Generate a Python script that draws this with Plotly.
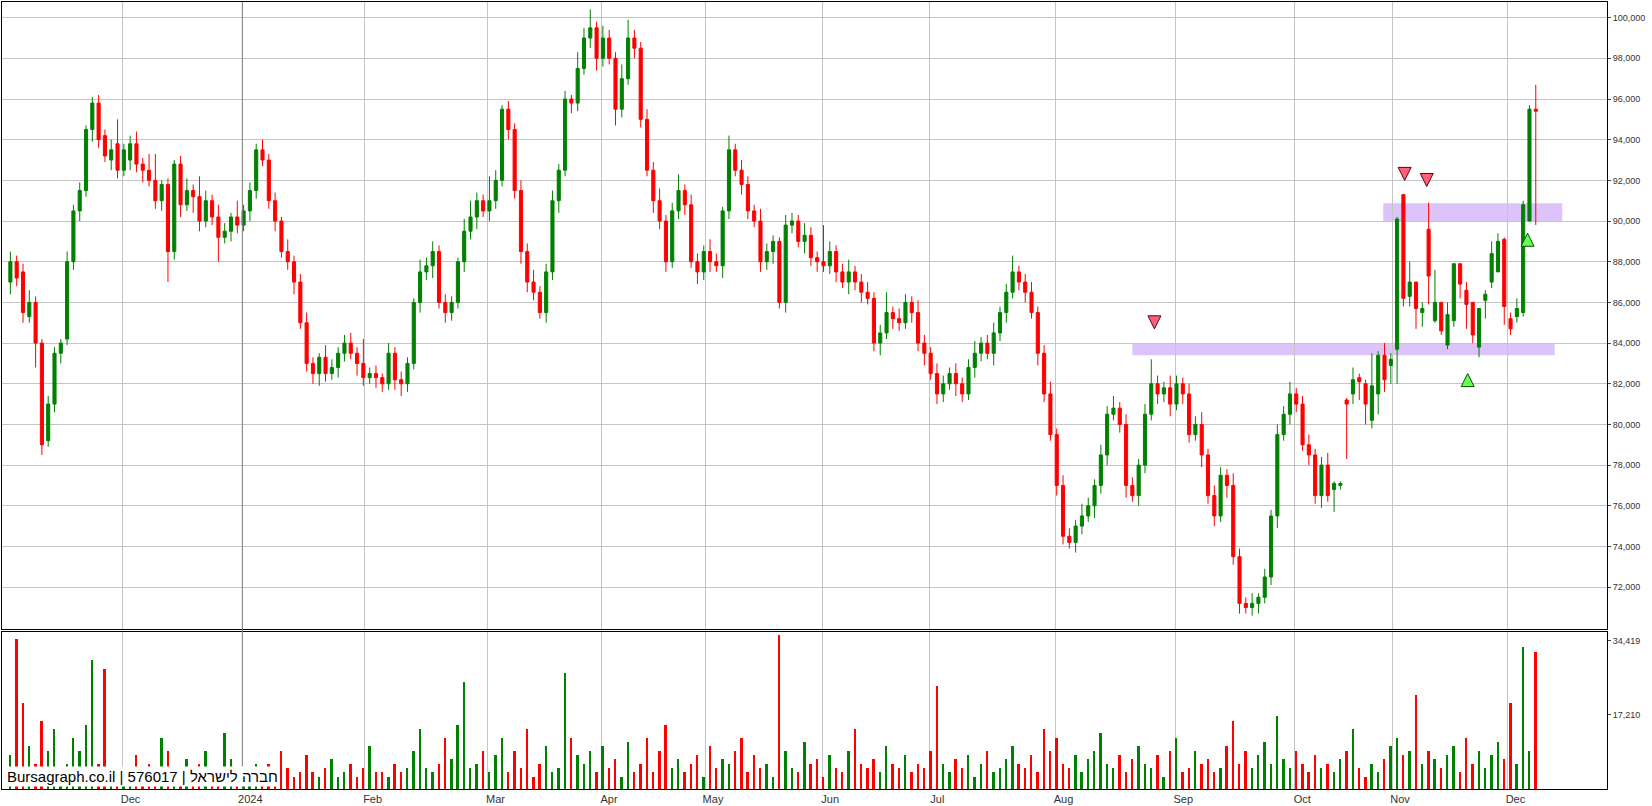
import plotly.graph_objects as go

# prices in thousands
close_head = [88.0,87.2,85.5,86.0,84.0,79.0,81.0,83.5,84.0,88.0,
90.5,91.5,94.5,95.8,94.0,93.2,93.5,92.5,93.5,93.8,
92.8,92.5,92.0,91.0,91.8,88.5,92.8,90.8,91.5,91.2,
90.0,91.0,90.2,89.2,89.5,90.2,89.8,90.5,91.5,93.5,
93.0,91.0,90.0,88.5,88.0,87.0,85.0,83.0,82.5,83.3,
82.5,82.8,83.5,84.0,83.5,83.0,82.3,82.5,82.3,82.0,
83.5,82.2,82.0,83.0,86.0,87.5,87.8,88.5,86.0,85.5,
86.0,88.0,89.5,90.2,91.0,90.5,91.0,92.0,95.5,94.5,
91.5,88.5,87.0,86.5,85.5,87.5,91.0,92.5,96.0,95.8,
97.5,99.0,99.5,98.0,99.0,98.0,95.5,97.0,99.0,98.5,
95.0,92.5,91.0,90.0,88.0,90.5,91.5,90.8,88.0,87.5,
88.5,88.0,87.8,90.5,93.5,92.5,91.8,90.5,90.0,88.0,
88.5,89.0,86.0,89.8,90.0,89.0,89.3,88.2,88.0,87.8,
88.5,87.5,87.0,87.5,87.0,86.5,86.2,84.0,84.5,85.5,
85.2,85.0,86.0,85.5,84.0,83.5,82.5,81.5,82.0,82.5,
82.0,81.5,82.8,83.5,84.0,83.5,84.5,85.5,86.5,87.5,
87.0,86.5,85.5,83.5,81.5,79.5,77.0,74.5,74.2,75.0,
75.5,76.0,77.0,78.5,80.5,80.8,80.0,77.0,76.5,78.0,
80.5,82.0,81.5,81.8,81.0,82.0,81.5,79.5,80.0,78.5,
76.5,75.5,77.5,77.0,73.5,71.2,71.0,71.2,71.5,72.5,
75.5,79.5,80.5,81.5,81.0,79.0,78.5,76.5,78.0,76.5]
open_head = [87.0,88.0,87.5,85.3,86.0,84.0,79.2,81.0,83.5,84.2,
88.0,90.5,91.5,94.5,95.8,94.2,93.0,93.8,92.5,93.0,
93.8,92.8,92.5,92.0,91.0,91.8,88.5,92.8,90.8,91.5,
91.2,90.0,91.0,90.2,89.2,89.5,90.2,89.8,90.5,91.5,
93.5,93.0,91.0,90.0,88.5,88.0,87.0,85.0,83.0,82.5,
83.3,82.5,82.8,83.5,84.0,83.5,83.0,82.3,82.5,82.3,
82.0,83.5,82.2,82.0,83.0,86.0,87.5,87.8,88.5,86.0,
85.5,86.0,88.0,89.5,90.2,91.0,90.5,91.0,92.0,95.5,
94.5,91.5,88.5,87.0,86.5,85.5,87.5,91.0,92.5,96.0,
95.8,97.5,99.0,99.5,98.0,99.0,98.0,95.5,97.0,99.0,
98.5,95.0,92.5,91.0,90.0,88.0,90.5,91.5,90.8,88.0,
87.5,88.5,88.0,87.8,90.5,93.5,92.5,91.8,90.5,90.0,
88.0,88.5,89.0,86.0,89.8,90.0,89.0,89.3,88.2,88.0,
87.8,88.5,87.5,87.0,87.5,87.0,86.5,86.2,84.0,84.5,
85.5,85.2,85.0,86.0,85.5,84.0,83.5,82.5,81.5,82.0,
82.5,82.0,81.5,82.8,83.5,84.0,83.5,84.5,85.5,86.5,
87.5,87.0,86.5,85.5,83.5,81.5,79.5,77.0,74.5,74.2,
75.0,75.5,76.0,77.0,78.5,80.5,80.8,80.0,77.0,76.5,
78.0,80.5,82.0,81.5,81.8,81.0,82.0,81.5,79.5,80.0,
78.5,76.5,75.5,77.5,77.0,73.5,71.2,71.0,71.2,71.5,
72.5,75.5,79.5,80.5,81.5,81.0,79.0,78.5,76.5,78.0]
wick_up_head = [0.5,0.3,0.4,0.6,0.3,0.2,0.4,0.3,0.2,0.5,
0.3,0.4,0.2,0.3,0.4,0.3,0.5,1.2,0.3,0.4,
0.6,0.3,0.8,1.3,0.2,0.3,0.2,0.4,0.6,0.3,
1.0,0.5,0.3,0.6,0.4,0.2,0.8,0.3,0.4,0.3,
0.5,0.3,0.4,0.2,0.6,0.3,0.4,0.5,0.3,0.2,
0.6,0.4,0.3,0.4,0.5,0.3,1.2,0.3,0.4,0.2,
0.5,0.3,0.4,0.3,0.2,0.6,0.4,0.5,0.3,0.4,
0.3,0.2,0.6,0.8,0.4,0.3,1.2,0.5,0.2,0.4,
0.3,0.5,0.4,0.6,0.3,0.4,0.5,0.3,0.4,0.2,
0.8,0.5,0.9,0.3,0.6,0.4,0.3,0.7,0.9,0.4,
0.3,0.5,0.4,0.6,0.3,0.4,0.8,0.3,0.5,0.4,
0.3,0.6,0.4,0.2,0.7,0.3,0.5,0.4,0.3,0.6,
0.4,0.3,0.2,0.5,0.4,0.3,0.6,0.4,0.3,1.8,
0.5,0.3,0.4,0.6,0.3,0.4,0.5,0.3,0.4,1.0,
0.3,0.5,0.4,0.3,0.6,0.4,0.3,0.5,0.4,0.3,
0.5,0.3,0.4,0.6,0.3,0.4,0.5,0.3,0.4,0.8,
0.3,0.4,0.5,0.3,0.4,0.6,0.3,0.5,0.4,0.3,
0.6,0.4,0.3,0.5,0.4,0.6,0.3,0.5,0.4,0.3,
0.5,1.2,0.4,0.3,0.6,0.4,0.3,0.5,0.4,0.6,
0.3,0.5,0.4,0.3,0.6,0.4,0.3,0.5,0.2,0.4,
0.3,0.5,0.4,0.6,0.3,0.4,0.5,0.3,0.4,0.6]
wick_dn_head = [0.6,0.4,0.5,0.3,1.2,0.5,0.3,0.4,0.5,0.3,
0.4,0.5,0.3,0.6,0.4,0.3,0.5,0.4,0.3,0.5,
0.4,0.6,0.3,0.4,0.5,1.5,0.4,0.6,0.3,0.8,
0.5,0.3,0.4,1.2,0.3,0.5,0.4,0.3,0.5,0.4,
0.3,0.4,0.5,0.3,0.4,0.6,0.3,0.4,0.5,0.6,
0.4,0.3,0.5,0.4,0.3,0.6,0.4,0.3,0.5,0.4,
0.3,0.5,0.6,0.4,0.3,0.5,0.4,0.6,0.3,0.5,
0.4,0.3,0.5,0.4,0.6,0.3,0.5,0.4,0.3,0.5,
0.4,0.6,0.5,0.4,0.3,0.5,0.4,0.6,0.3,0.5,
0.4,0.3,0.5,0.6,0.4,0.3,0.8,0.4,0.3,0.5,
0.4,0.3,0.6,0.4,0.5,0.3,0.4,0.5,0.3,0.6,
0.4,0.5,0.3,0.6,0.4,0.3,0.5,0.4,0.3,0.5,
0.4,0.6,0.3,0.5,0.4,0.3,0.6,0.4,0.5,0.3,
0.4,0.5,0.3,0.6,0.4,0.5,0.3,0.4,0.6,0.3,
0.5,0.4,0.3,0.5,0.4,0.6,0.3,0.5,0.4,0.3,
0.6,0.4,0.3,0.5,0.4,0.3,0.6,0.4,0.5,0.3,
0.4,0.5,0.3,0.6,0.4,0.3,0.5,0.4,0.3,0.5,
0.4,0.3,0.6,0.4,0.5,0.3,0.4,0.6,0.3,0.5,
0.4,0.3,0.5,0.4,0.6,0.3,0.5,0.4,0.3,0.6,
0.4,0.5,0.3,0.6,0.4,0.5,0.3,0.4,0.5,0.3,
0.4,0.6,0.3,0.5,0.4,0.3,0.5,0.4,0.6,0.3]

open_tail  = [76.8,77.0,81.2,81.5,82.3,82.0,80.2,81.5,83.4,82.9,83.7,91.3,86.3,87.0,85.5,89.6,85.1,86.0,83.9,85.1,87.9,86.6,86.0,83.8,86.1,87.0,87.5,89.1,85.2,85.3,85.5,90.0,95.5]
high_tail  = [77.2,77.2,81.3,82.8,82.5,82.2,83.5,83.6,84.0,83.5,90.2,91.3,88.0,87.0,86.0,90.9,87.6,86.0,86.0,87.9,87.9,87.0,86.0,85.7,86.6,89.0,89.4,89.2,85.5,86.2,91.0,95.7,96.7]
low_tail   = [75.7,76.8,78.3,81.0,81.2,80.0,79.8,80.5,81.6,82.0,82.0,85.8,85.8,84.7,84.8,85.9,85.0,84.4,83.7,84.8,86.2,84.7,84.0,83.3,85.2,86.7,87.5,84.9,84.4,85.0,85.3,90.0,89.8]
close_tail = [77.1,77.1,81.0,82.2,82.1,81.0,81.9,83.4,82.2,83.2,90.1,86.2,87.0,85.7,85.7,87.3,86.0,84.6,85.4,87.9,86.9,85.9,84.4,85.7,86.4,88.4,89.0,85.8,84.7,85.7,90.8,95.5,95.4]

volume_k = [8,35,20,10,6,16,9,14,5,6,12,9,15,30,6,28,5,4,3,5,
8,4,6,3,12,9,5,4,7,3,6,9,4,5,13,7,4,5,3,6,
4,6,3,9,5,3,4,8,4,3,5,7,3,4,6,3,5,10,4,4,
3,6,4,5,9,14,5,4,6,12,7,15,25,5,6,9,4,8,12,4,
9,5,14,3,6,10,4,5,27,12,8,6,9,4,10,5,7,3,11,4,
6,12,4,9,15,5,7,4,6,8,3,10,5,7,6,9,12,4,8,5,
6,3,36,9,5,4,11,6,7,3,
8,5,4,9,14,6,5,7,4,10,6,5,8,4,6,5,9,24,6,4,
7,5,8,3,6,9,4,5,7,10,6,5,8,4,14,9,12,6,5,8,
4,7,9,13,6,5,8,4,7,10,6,5,8,3,9,12,4,5,9,6,
7,4,5,10,16,6,9,5,8,11,6,17,7,5,9,6,4,8,5,6,
4,7,9,14,5,3,6,4,7,10,12,8,9,22,6,9,7,5,8,10,
4,12,6,9,5,8,11,7,20,6,33,9,32]

month_pos = [17.8,36.8,56.2,75.7,93.7,110.2,128.8,145.8,165.8,184.8,203.7,219.2,237.5]
month_labels = ["Dec","2024","Feb","Mar","Apr","May","Jun","Jul","Aug","Sep","Oct","Nov","Dec"]
price_ticks = list(range(72000, 100001, 2000))
vol_ticks = [17210, 34419]

bands = [(178, 245, 83400, 84000), (217.8, 246.2, 90000, 90870)]
down_arrows = ([181.5, 221.2, 224.7], [84700, 92000, 91700])
up_arrows = ([231.2, 240.7], [82500, 89400])

# ---- build ----
O = [v*1000 for v in open_head + open_tail]
C = [v*1000 for v in close_head + close_tail]
H = [(max(o, c) + u)*1000 for o, c, u in zip(open_head, close_head, wick_up_head)] + [v*1000 for v in high_tail]
L = [(min(o, c) - d)*1000 for o, c, d in zip(open_head, close_head, wick_dn_head)] + [v*1000 for v in low_tail]
n = len(C)
idx = list(range(n))
V = [v*1000 for v in volume_k]
vcol = ["#008000" if c >= o else "#ff0000" for o, c in zip(O, C)]

fig = go.Figure()
fig.add_trace(go.Candlestick(x=idx, open=O, high=H, low=L, close=C,
    increasing=dict(line=dict(color="#008000", width=1), fillcolor="#008000"),
    decreasing=dict(line=dict(color="#ff0000", width=1), fillcolor="#ff0000"),
    whiskerwidth=0, showlegend=False, xaxis="x", yaxis="y", hoverinfo="skip"))
fig.add_trace(go.Bar(x=idx, y=V, marker=dict(color=vcol, line=dict(width=0)), width=0.3,
    showlegend=False, xaxis="x2", yaxis="y2", hoverinfo="skip"))
fig.add_trace(go.Scatter(x=down_arrows[0], y=down_arrows[1], mode="markers",
    marker=dict(symbol="arrow-down", size=13, color="#ff6078", line=dict(color="#5a0010", width=1)),
    showlegend=False, xaxis="x", yaxis="y"))
fig.add_trace(go.Scatter(x=up_arrows[0], y=up_arrows[1], mode="markers",
    marker=dict(symbol="arrow-up", size=13, color="#66ff55", line=dict(color="#0a4a00", width=1)),
    showlegend=False, xaxis="x", yaxis="y"))

shapes = []
for x0, x1, y0, y1 in bands:
    shapes.append(dict(type="rect", xref="x", yref="y", x0=x0, x1=x1, y0=y0, y1=y1,
                       fillcolor="#dcc3fa", line=dict(width=0), layer="below"))
shapes.append(dict(type="line", xref="x", yref="paper", x0=month_pos[1], x1=month_pos[1], y0=0, y1=1,
                   line=dict(color="#808080", width=1)))

xr = [-1.33, 253.3]
axis_common = dict(showline=True, linecolor="#000000", mirror=True, zeroline=False)
fig.update_layout(
    paper_bgcolor="white", plot_bgcolor="white",
    margin=dict(l=2, r=45, t=1, b=17),
    font=dict(family="Arial, Liberation Sans", size=10, color="#333"),
    shapes=shapes,
    xaxis=dict(domain=[0, 1], range=xr, anchor="y", tickvals=month_pos, showticklabels=False,
               showgrid=True, gridcolor="#c4c4c4", rangeslider=dict(visible=False), **axis_common),
    yaxis=dict(domain=[0.203, 1], range=[69930, 100770], side="right", tickvals=price_ticks,
               tickformat=",d", showgrid=True, gridcolor="#c4c4c4", ticks="outside", ticklen=3,
               tickfont=dict(size=9), **axis_common),
    xaxis2=dict(domain=[0, 1], range=xr, anchor="y2", tickvals=month_pos, ticktext=month_labels,
                showgrid=True, gridcolor="#c4c4c4", ticklabelshift=8, ticks="", tickfont=dict(size=11),
                **axis_common),
    yaxis2=dict(domain=[0, 0.2], range=[0, 36600], side="right", tickvals=vol_ticks,
                ticktext=["17,210", "34,419"], showgrid=False, tickfont=dict(size=9),
                ticks="outside", ticklen=3, **axis_common),
    annotations=[dict(text="Bursagraph.co.il | 576017 | חברה לישראל", xref="paper", yref="paper",
                      x=0.002, y=0.003, xanchor="left", yanchor="bottom", showarrow=False,
                      bgcolor="white", font=dict(size=15, color="#000", family="Arial, Liberation Sans"))],
    bargap=0,
)
fig.write_html("out.html", config={"displayModeBar": False}, post_script=(
    "document.body.style.margin='0px';document.body.style.overflow='hidden';"
    "var gd=document.getElementById('{plot_id}');gd.style.height='100vh';Plotly.Plots.resize(gd);"))
